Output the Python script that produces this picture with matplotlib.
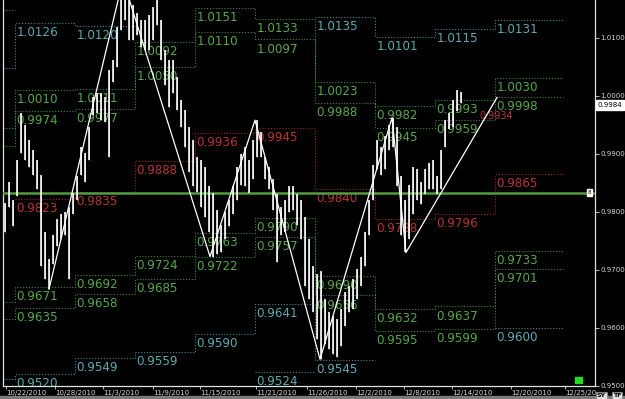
import numpy as np
import matplotlib
matplotlib.use('Agg')
import matplotlib.pyplot as plt
from matplotlib.patches import Rectangle

# Price bars (one bar = 8 hours), high / low
HIGH = [0.9816, 0.9852, 0.9821, 0.9890, 0.9971, 0.9950, 0.9924, 0.9907, 0.9890, 0.9864,
        0.9765, 0.9718, 0.9761, 0.9787, 0.9796, 0.9799, 0.9809, 0.9833, 0.9861, 0.9912,
        0.9902, 0.9947, 0.9998, 1.0005, 1.0005, 0.9998, 1.0045, 1.0062, 1.0119, 1.0174,
        1.0182, 1.0174, 1.0156, 1.0143, 1.0131, 1.0131, 1.0139, 1.0153, 1.0170, 1.0131,
        1.0079, 1.0062, 1.0062, 1.0033, 0.9993, 0.9976, 0.9947, 0.9924, 0.9895, 0.9890,
        0.9878, 0.9844, 0.9833, 0.9804, 0.9778, 0.9799, 0.9821, 0.9844, 0.9878, 0.9899,
        0.9912, 0.9890, 0.9924, 0.9958, 0.9937, 0.9895, 0.9878, 0.9856, 0.9830, 0.9809,
        0.9821, 0.9844, 0.9844, 0.9830, 0.9821, 0.9792, 0.9753, 0.9706, 0.9693, 0.9698,
        0.9650, 0.9627, 0.9620, 0.9615, 0.9632, 0.9662, 0.9672, 0.9684, 0.9701, 0.9723,
        0.9765, 0.9821, 0.9881, 0.9924, 0.9912, 0.9930, 0.9950, 0.9962, 0.9947, 0.9861,
        0.9821, 0.9847, 0.9878, 0.9873, 0.9851, 0.9873, 0.9885, 0.9890, 0.9861, 0.9907,
        0.9959, 0.9971, 0.9993, 1.0010, 1.0007]
LOW = [0.9765, 0.9809, 0.9775, 0.9827, 0.9902, 0.9890, 0.9878, 0.9864, 0.9839, 0.9706,
       0.9684, 0.9667, 0.9710, 0.9741, 0.9753, 0.9761, 0.9684, 0.9796, 0.9821, 0.9864,
       0.9851, 0.9890, 0.9967, 0.9971, 0.9959, 0.9955, 0.9894, 1.0024, 1.0050, 1.0113,
       1.0131, 1.0096, 1.0096, 1.0105, 1.0084, 1.0079, 1.0079, 1.0096, 1.0122, 1.0062,
       1.0019, 0.9981, 1.0005, 0.9976, 0.9947, 0.9912, 0.9868, 0.9844, 0.9835, 0.9809,
       0.9792, 0.9765, 0.9723, 0.9727, 0.9730, 0.9753, 0.9775, 0.9796, 0.9821, 0.9847,
       0.9844, 0.9833, 0.9856, 0.9895, 0.9895, 0.9856, 0.9839, 0.9804, 0.9713, 0.9761,
       0.9765, 0.9799, 0.9804, 0.9778, 0.9753, 0.9672, 0.9650, 0.9627, 0.9581, 0.9546,
       0.9572, 0.9564, 0.9555, 0.9550, 0.9569, 0.9603, 0.9627, 0.9632, 0.9650, 0.9672,
       0.9706, 0.9761, 0.9821, 0.9873, 0.9864, 0.9873, 0.9907, 0.9912, 0.9844, 0.9761,
       0.9730, 0.9753, 0.9796, 0.9821, 0.9813, 0.9830, 0.9839, 0.9839, 0.9830, 0.9839,
       0.9912, 0.9942, 0.9947, 0.9973, 0.9988]

# Weekly pivot levels, week borders given in bars (first week is the previous one)
WEEK_EDGES = [0, 3, 18, 33, 48, 63, 78, 93, 108, 123, 140]
nan = np.nan
R4 = [1.0148, nan, nan, nan, nan, nan, nan, nan, nan, nan]
R3 = [1.0048, 1.0126, 1.0120, nan, nan, nan, 1.0135, 1.0101, 1.0115, 1.0131]
R2 = [0.9945, 1.0010, 1.0011, 1.0092, 1.0151, 1.0133, 1.0023, 0.9982, 0.9993, 1.0030]
R1 = [0.9914, 0.9974, 0.9977, 1.0050, 1.0110, 1.0097, 0.9988, 0.9945, 0.9959, 0.9998]
PP = [nan, 0.9823, 0.9835, 0.9888, 0.9936, 0.9945, 0.9840, 0.9788, 0.9796, 0.9865]
S1 = [0.9644, 0.9671, 0.9692, 0.9724, 0.9763, 0.9790, 0.9690, 0.9632, 0.9637, 0.9733]
S2 = [0.9615, 0.9635, 0.9658, 0.9685, 0.9722, 0.9757, 0.9656, 0.9595, 0.9599, 0.9701]
S3 = [0.9512, 0.9520, 0.9549, 0.9559, 0.9590, 0.9641, 0.9545, nan, nan, 0.9600]
S4 = [nan, nan, nan, nan, nan, 0.9524, nan, nan, nan, nan]

# ZigZag
ZZ_X = [11.5, 30, 51.75, 63, 79.25, 97.25, 100.75, 123.5]
ZZ_Y = [0.9667, 1.0200, 0.9723, 0.9958, 0.9546, 0.9962, 0.9730, 0.9997]

MIDLINE = 0.9833
LAST_PRICE = 0.9984
EXTRA_LABEL = (119, 0.9973, '0.9934')

DATES = ['10/22/2010', '10/28/2010', '11/3/2010', '11/9/2010', '11/15/2010', '11/21/2010',
         '11/26/2010', '12/2/2010', '12/8/2010', '12/14/2010', '12/20/2010', '12/25/20']
DATE_POS = [0.75, 13, 25, 37.5, 49.25, 63.25, 76, 88.25, 100.25, 112.25, 127, 140.5]
PRICE_TICKS = [1.01, 1.00, 0.99, 0.98, 0.97, 0.96, 0.95]

TEAL = ('#3d8c93', '#5cabb3')
GREEN = ('#3b8a33', '#56a848')
RED = ('#9a2626', '#b83434')


def Levels(ax, vals, colors):
    line_c, text_c = colors
    y = list(vals) + [vals[-1]]
    ax.step(WEEK_EDGES, y, where='post', color=line_c, lw=0.8, ls=(0, (1, 1.6)), zorder=1)
    for k in range(1, len(vals)):
        if np.isnan(vals[k]):
            continue
        ax.annotate(f'{vals[k]:.4f}', (WEEK_EDGES[k], vals[k]), xytext=(1.2, -2.2),
                    textcoords='offset points', ha='left', va='top', fontsize=8.6,
                    color=text_c, zorder=2, annotation_clip=True, clip_on=True)


def Main():
    fig = plt.figure(figsize=(6.25, 3.99), dpi=100, facecolor='black')
    ax = fig.add_axes([3 / 625, 13 / 399, 592 / 625, 386 / 399], facecolor='black')

    for vals, c in [(R4, TEAL), (R3, TEAL), (R2, GREEN), (R1, GREEN), (PP, RED),
                    (S1, GREEN), (S2, GREEN), (S3, TEAL), (S4, TEAL)]:
        Levels(ax, vals, c)

    # red label partly hidden behind the weekly boxes
    ax.annotate(EXTRA_LABEL[2], (EXTRA_LABEL[0], EXTRA_LABEL[1]), ha='left', va='top',
                fontsize=7, color=RED[1], zorder=1.5)

    ax.axhline(MIDLINE, color='#4f9d3f', lw=1.8, zorder=3)
    ax.annotate('8', xy=(1, MIDLINE), xycoords=('axes fraction', 'data'), xytext=(-4, 0),
                textcoords='offset points', ha='center', va='center', fontsize=4,
                color='black', zorder=6,
                bbox=dict(boxstyle='square,pad=0.2', fc='white', ec='white'))

    # bars
    xs = np.arange(len(HIGH)) + 0.5
    ax.vlines(xs, LOW, HIGH, color='#9a9a9a', lw=0.7, zorder=4)
    ax.vlines(xs, LOW, HIGH, color='white', lw=1.3, zorder=4, alpha=0.9)

    ax.plot(ZZ_X, ZZ_Y, color='white', lw=0.9, zorder=5)

    ax.set_xlim(0, 148)
    ax.set_ylim(0.9502, 1.0165)

    ax.yaxis.tick_right()
    ax.set_yticks(PRICE_TICKS)
    ax.set_yticklabels([f'{v:.4f}' for v in PRICE_TICKS])
    ax.set_xticks(DATE_POS)
    ax.set_xticklabels(DATES)
    plt.setp(ax.get_xticklabels(), ha='left')
    ax.tick_params(axis='y', colors='#d8d8d8', labelsize=5, length=3, width=0.6, pad=1)
    ax.tick_params(axis='x', colors='#d8d8d8', labelsize=5, length=2, width=0.6, pad=1)

    for s in ['left', 'right', 'bottom']:
        ax.spines[s].set_color('#e0e0e0')
        ax.spines[s].set_linewidth(0.9)
    ax.spines['top'].set_visible(False)

    ax.annotate(f'{LAST_PRICE:.4f}', xy=(1, LAST_PRICE), xycoords=('axes fraction', 'data'),
                xytext=(2, 0), textcoords='offset points', ha='left', va='center',
                fontsize=5, color='black',
                bbox=dict(boxstyle='square,pad=0.3', fc='white', ec='white'))

    # small ui bits
    ax.add_patch(Rectangle((0.9665, 0.007), 0.011, 0.016, transform=ax.transAxes,
                           color='#22dd22', zorder=6))
    for t, xf in [('SY', 0.955), ('TF', 0.981)]:
        fig.text(xf, 0.006, t, fontsize=4.5, color='black', fontweight='bold',
                 bbox=dict(boxstyle='square,pad=0.15', fc='#dddddd', ec='#888888', lw=0.5))
    fig.patches.append(Rectangle((0, 0), 1, 3 / 399, transform=fig.transFigure,
                                 color='#7a7a7a', zorder=0))

    fig.savefig('out.png', dpi=100, facecolor='black')


if __name__ == "__main__": Main()
